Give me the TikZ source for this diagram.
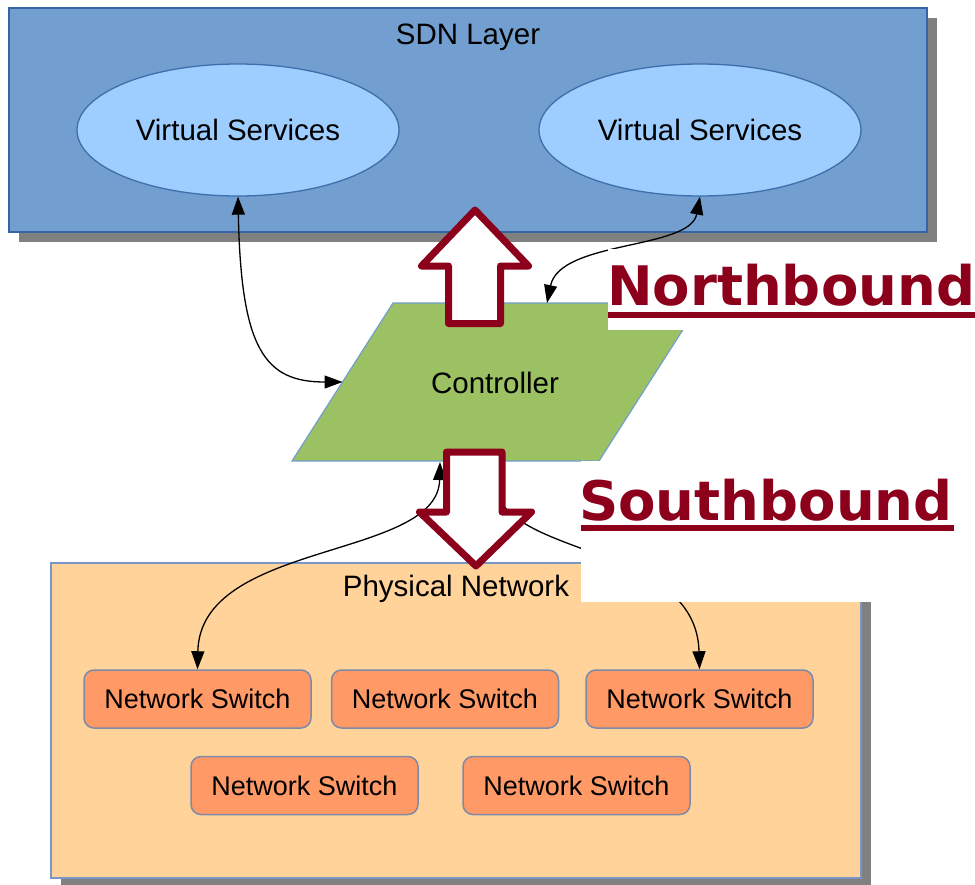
\documentclass[tikz,border=0pt]{standalone}
\usepackage{fontspec}
\setmainfont{Liberation Sans}
\newfontfamily\bandfont{DejaVu Sans}
\usetikzlibrary{shapes.geometric,arrows.meta}

\definecolor{sdnfill}{RGB}{114,159,207}
\definecolor{sdnline}{RGB}{52,101,164}
\definecolor{vsfill}{RGB}{158,206,255}
\definecolor{vsline}{RGB}{62,110,172}
\definecolor{ctrlfill}{RGB}{155,193,98}
\definecolor{ctrlline}{RGB}{114,159,207}
\definecolor{physfill}{RGB}{255,211,153}
\definecolor{physline}{RGB}{120,150,200}
\definecolor{swfill}{RGB}{255,153,102}
\definecolor{swline}{RGB}{125,138,168}
\definecolor{shadowgray}{RGB}{128,128,128}
\definecolor{bandred}{RGB}{140,0,28}

\begin{document}
\begin{tikzpicture}[x=1pt,y=-1pt,
  bodytext/.style={font=\fontsize{29.5}{34}\selectfont, text=black, inner sep=0pt},
  dropshadow/.style={fill=shadowgray, draw=none},
  layerbox/.style={draw=sdnline, line width=1.8pt, fill=sdnfill},
  physbox/.style={draw=physline, line width=1.3pt, fill=physfill},
  vservice/.style={ellipse, draw=vsline, line width=1.3pt, fill=vsfill,
    minimum width=322pt, minimum height=132pt, inner sep=0pt,
    font=\fontsize{29.5}{34}\selectfont},
  ctrlshape/.style={draw=ctrlline, line width=1.2pt, fill=ctrlfill},
  switchbox/.style={draw=swline, line width=1.5pt, fill=swfill,
    rounded corners=10pt, minimum width=227pt, minimum height=58pt,
    inner sep=0pt, font=\fontsize{27}{32}\selectfont},
  link/.style={draw=black, line width=1.3pt,
    {Triangle[length=18pt,width=13pt]}-{Triangle[length=18pt,width=13pt]}},
  blockarrow/.style={draw=bandred, fill=white, line width=7pt, line join=round},
  bandtext/.style={font=\bandfont\bfseries\fontsize{54.5}{60}\selectfont,
    text=bandred, inner sep=0pt, anchor=base west},
  bandrule/.style={fill=bandred, draw=none},
  whitepatch/.style={fill=white, draw=none}]

\useasboundingbox (0,0) rectangle (975,884);
\clip (0,0) rectangle (975,884);
\fill[white] (0,0) rectangle (975,884);

% SDN layer container
\fill[dropshadow] (19,18) rectangle (937,242);
\filldraw[layerbox] (9,8) rectangle (927,232);
\node[bodytext, anchor=base] (sdnlabel) at (468,44) {SDN Layer};
\node[vservice] (vs1) at (238,130) {Virtual Services};
\node[vservice] (vs2) at (700,130) {Virtual Services};

% Physical network container
\fill[dropshadow] (61,573) rectangle (871,890);
\filldraw[physbox] (51,563) rectangle (861,878);
\node[bodytext, anchor=base] (physlabel) at (456,596) {Physical Network};
\node[switchbox] (sw1) at (197.5,699) {Network Switch};
\node[switchbox] (sw2) at (445,699) {Network Switch};
\node[switchbox] (sw3) at (699.5,699) {Network Switch};
\node[switchbox] (sw4) at (304.5,785.5) {Network Switch};
\node[switchbox] (sw5) at (576.5,785.5) {Network Switch};

% Controller
\filldraw[ctrlshape] (292,461) -- (599,461) -- (700,303) -- (393,303) -- cycle;
\node[bodytext] (ctrl) at (495,383) {Controller};
\coordinate (ctrlW) at (342.5,382);
\coordinate (ctrlN) at (547,303);
\coordinate (ctrlS1) at (440,462);
\coordinate (ctrlS2) at (494,462);

% Connectors
\draw[link] (vs1.south) .. controls (241,350) and (265,382) .. (ctrlW);
\draw[link] (vs2.south) .. controls (690,250) and (560,240) .. (ctrlN);
\draw[link] (ctrlS1) .. controls (438,560) and (200,540) .. (sw1.north);
\draw[link] (ctrlS2) .. controls (496,560) and (696,540) .. (sw3.north);

% Block arrows
\filldraw[blockarrow] (475,210) -- (528.5,266) -- (500.5,266) -- (500.5,323.5)
  -- (448.5,323.5) -- (448.5,266) -- (421.5,266) -- cycle;
\filldraw[blockarrow] (446.5,452) -- (502,452) -- (502,512) -- (531.5,512)
  -- (476,566) -- (419.5,512) -- (446.5,512) -- cycle;

% Interface labels
\fill[whitepatch] (608,249) rectangle (975,330);
\node[bandtext] (north) at (607,305) {Northbound};
\fill[bandrule] (608,312) rectangle (975,318);

\fill[whitepatch] (581,461) rectangle (975,602);
\node[bandtext] (south) at (579,520) {Southbound};
\fill[bandrule] (581,525) rectangle (954,531);
\end{tikzpicture}
\end{document}
